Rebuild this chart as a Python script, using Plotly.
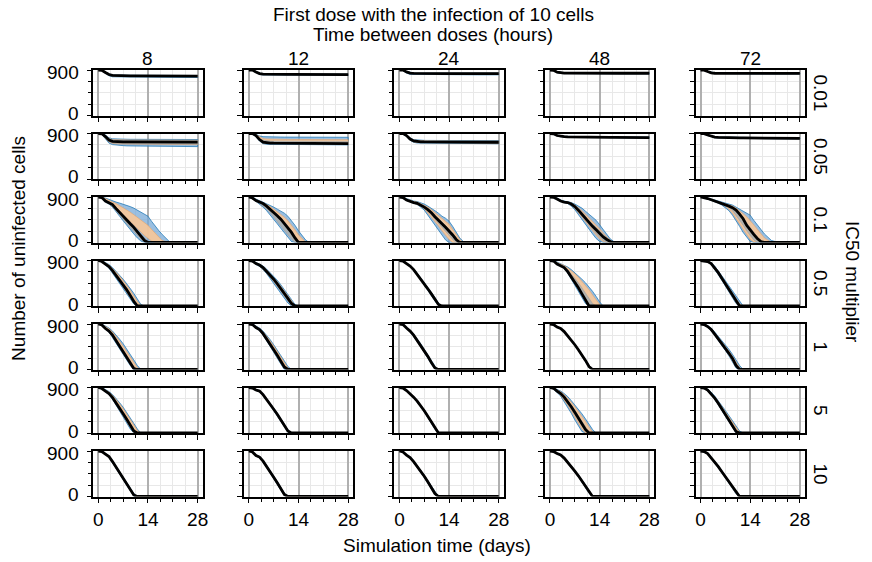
import plotly.graph_objects as go

DAYS = [0, 1, 2, 3, 4, 5, 6, 7, 8, 9, 10, 11, 12, 13, 14, 15, 16, 17, 18, 20, 22, 28]
HOURS = ["8", "12", "24", "48", "72"]
IC50 = ["0.01", "0.05", "0.1", "0.5", "1", "5", "10"]
X_TICKS = [0, 14, 28]
Y_TICKS = [0, 900]
X_MINOR = [3.5, 7, 10.5, 17.5, 21, 24.5]
Y_MINOR = [225, 450, 675]

MEDIAN = [
 [[900,895,850,810,792,787,785,784,783,782,782,781,781,780,780,780,780,780,780,779,779,778],
  [900,898,860,828,818,815,814,813,813,812,812,812,812,812,811,811,811,811,811,811,810,810],
  [900,898,862,840,834,832,831,831,830,830,830,830,830,830,830,830,830,830,830,830,830,830],
  [900,895,858,842,838,837,836,836,836,836,836,836,836,836,836,836,836,836,836,836,836,836],
  [900,898,870,845,836,834,833,833,832,832,832,832,832,832,832,832,832,832,832,832,832,832]],
 [[900,895,840,770,745,738,735,734,733,732,732,731,731,730,730,730,730,730,730,729,729,728],
  [900,898,860,780,730,715,710,708,707,706,705,705,704,704,703,703,703,702,702,702,701,700],
  [900,898,860,790,752,740,736,734,733,732,731,731,730,730,730,729,729,729,729,728,728,727],
  [900,895,860,845,838,835,833,832,831,830,829,828,828,827,827,826,826,825,825,824,823,820],
  [900,897,870,845,830,824,820,818,816,815,814,813,812,811,810,810,809,809,808,808,807,805]],
 [[900,890,820,790,750,670,590,510,440,370,300,220,140,40,0,0,0,0,0,0,0,0],
  [900,880,830,800,770,720,660,600,530,460,380,290,200,90,0,0,0,0,0,0,0,0],
  [900,890,840,810,790,775,740,700,650,590,510,430,370,300,230,150,60,0,0,0,0,0],
  [900,895,860,820,800,790,760,710,640,560,470,380,320,250,170,110,60,20,0,0,0,0],
  [900,890,870,845,820,800,780,760,720,690,640,560,470,340,240,160,80,20,0,0,0,0]],
 [[900,880,830,780,700,610,520,420,320,210,90,0,0,0,0,0,0,0,0,0,0,0],
  [900,890,840,810,760,690,610,530,440,350,250,150,50,0,0,0,0,0,0,0,0,0],
  [900,890,840,790,720,630,540,440,340,240,130,30,0,0,0,0,0,0,0,0,0,0],
  [900,890,830,800,760,680,580,470,360,240,110,0,0,0,0,0,0,0,0,0,0,0],
  [900,895,880,840,760,660,550,440,330,220,100,0,0,0,0,0,0,0,0,0,0,0]],
 [[900,880,810,760,680,580,460,350,240,130,20,0,0,0,0,0,0,0,0,0,0,0],
  [900,890,830,790,710,610,500,390,280,170,50,0,0,0,0,0,0,0,0,0,0,0],
  [900,890,820,760,680,580,480,370,260,140,30,0,0,0,0,0,0,0,0,0,0,0],
  [900,890,840,810,750,670,580,490,390,290,180,60,0,0,0,0,0,0,0,0,0,0],
  [900,890,850,790,700,610,520,420,320,220,80,0,0,0,0,0,0,0,0,0,0,0]],
 [[900,880,830,780,700,600,490,380,270,160,40,0,0,0,0,0,0,0,0,0,0,0],
  [900,890,850,830,760,670,570,470,370,260,150,40,0,0,0,0,0,0,0,0,0,0],
  [900,890,840,780,710,630,540,440,330,220,100,0,0,0,0,0,0,0,0,0,0,0],
  [900,885,830,780,710,620,520,410,300,190,70,0,0,0,0,0,0,0,0,0,0,0],
  [900,890,850,780,690,590,480,370,260,150,30,0,0,0,0,0,0,0,0,0,0,0]],
 [[900,890,840,790,690,580,470,360,250,140,30,0,0,0,0,0,0,0,0,0,0,0],
  [900,880,810,780,700,600,490,380,270,160,40,0,0,0,0,0,0,0,0,0,0,0],
  [900,880,820,770,690,600,500,400,290,180,60,0,0,0,0,0,0,0,0,0,0,0],
  [900,890,850,820,760,680,590,500,410,310,210,90,0,0,0,0,0,0,0,0,0,0],
  [900,890,850,770,680,590,490,390,290,190,80,0,0,0,0,0,0,0,0,0,0,0]],
]

BLUE_HI = [
 [[900,900,860,822,805,800,798,797,796,795,795,794,794,793,793,793,793,793,793,792,792,791],
  [900,900,868,838,828,825,824,823,823,822,822,822,822,822,821,821,821,821,821,821,820,820],
  [900,900,870,850,844,842,841,841,840,840,840,840,840,840,840,840,840,840,840,840,840,840],
  [900,900,866,850,846,845,844,844,844,844,844,844,844,844,844,844,844,844,844,844,844,844],
  [900,900,878,854,845,843,842,842,841,841,841,841,841,841,841,841,841,841,841,841,841,841]],
 [[900,900,870,815,795,790,788,787,786,785,785,784,784,783,783,783,783,783,783,782,782,781],
  [900,900,885,850,838,834,832,831,830,830,829,829,828,828,828,827,827,827,827,826,826,825],
  [900,900,875,815,780,770,766,764,763,762,761,761,760,760,760,759,759,759,759,758,758,757],
  [900,900,868,853,846,843,841,840,839,838,837,836,836,835,835,834,834,833,833,832,831,828],
  [900,900,878,854,840,834,830,828,826,825,824,823,822,821,820,820,819,819,818,818,817,815]],
 [[900,900,880,850,820,800,780,760,740,710,680,640,600,560,520,420,320,240,160,20,0,0],
  [900,900,860,830,800,770,740,700,660,620,580,520,440,340,230,130,50,0,0,0,0,0],
  [900,900,870,840,820,810,790,760,720,680,630,580,520,480,420,320,200,90,20,0,0,0],
  [900,900,880,840,820,810,790,760,720,680,620,560,500,440,350,250,150,70,20,0,0,0],
  [900,900,880,860,840,820,800,790,770,740,700,660,610,570,540,440,340,260,170,40,0,0]],
 [[900,900,860,820,760,690,610,530,440,350,250,140,30,0,0,0,0,0,0,0,0,0],
  [900,900,860,830,790,730,660,590,510,420,330,230,130,30,0,0,0,0,0,0,0,0],
  [900,895,850,800,740,650,560,470,370,270,170,60,0,0,0,0,0,0,0,0,0,0],
  [900,900,870,840,810,770,720,660,600,530,460,380,290,190,80,0,0,0,0,0,0,0],
  [900,900,885,855,790,700,600,500,400,300,190,80,0,0,0,0,0,0,0,0,0,0]],
 [[900,900,860,820,760,690,600,510,410,300,190,80,0,0,0,0,0,0,0,0,0,0],
  [900,900,860,820,760,680,590,490,390,280,170,60,0,0,0,0,0,0,0,0,0,0],
  [900,895,840,780,700,610,510,400,290,180,70,0,0,0,0,0,0,0,0,0,0,0],
  [900,893,848,818,760,682,592,502,402,302,195,75,0,0,0,0,0,0,0,0,0,0],
  [900,900,870,820,740,660,580,490,400,300,190,80,0,0,0,0,0,0,0,0,0,0]],
 [[900,900,860,820,760,690,600,510,410,300,190,80,0,0,0,0,0,0,0,0,0,0],
  [900,895,860,840,775,688,590,492,392,285,175,65,0,0,0,0,0,0,0,0,0,0],
  [900,893,848,790,722,645,556,458,350,240,125,15,0,0,0,0,0,0,0,0,0,0],
  [900,900,860,830,780,720,640,560,470,380,280,180,70,0,0,0,0,0,0,0,0,0],
  [900,900,870,810,730,640,545,445,345,245,140,40,0,0,0,0,0,0,0,0,0,0]],
 [[900,895,850,805,710,605,495,385,275,165,60,0,0,0,0,0,0,0,0,0,0,0],
  [900,888,822,795,720,623,515,405,295,187,70,0,0,0,0,0,0,0,0,0,0,0],
  [900,888,832,785,710,622,524,424,316,206,90,0,0,0,0,0,0,0,0,0,0,0],
  [900,894,860,832,776,698,610,520,430,332,234,118,10,0,0,0,0,0,0,0,0,0],
  [900,894,860,785,698,610,512,412,312,214,108,10,0,0,0,0,0,0,0,0,0,0]],
]

BLUE_LO = [
 [[900,885,830,785,765,760,758,757,756,755,755,754,754,753,753,753,753,753,753,752,752,751],
  [900,890,845,812,802,798,797,796,796,795,795,795,795,795,794,794,794,794,794,794,793,793],
  [900,890,840,815,808,806,805,805,804,804,804,804,804,804,804,804,804,804,804,804,804,804],
  [900,888,846,830,826,825,824,824,824,824,824,824,824,824,824,824,824,824,824,824,824,824],
  [900,892,858,832,823,821,820,820,819,819,819,819,819,819,819,819,819,819,819,819,819,819]],
 [[900,880,800,710,680,670,665,660,655,652,650,648,646,645,644,643,642,641,640,640,640,640],
  [900,890,835,750,700,688,684,682,681,680,679,679,678,678,677,677,677,676,676,676,675,674],
  [900,892,840,765,725,712,707,705,704,703,702,702,701,701,700,700,700,699,699,699,698,697],
  [900,888,850,834,827,824,822,821,820,819,818,817,817,816,816,815,815,814,814,813,812,809],
  [900,890,858,832,816,810,806,804,802,801,800,799,798,797,796,796,795,795,794,794,793,791]],
 [[900,880,800,760,700,610,520,430,340,250,170,90,30,0,0,0,0,0,0,0,0,0],
  [900,870,800,755,700,630,550,460,370,280,190,100,20,0,0,0,0,0,0,0,0,0],
  [900,880,830,800,780,750,700,640,560,460,360,260,150,50,0,0,0,0,0,0,0,0],
  [900,890,850,810,790,770,720,650,560,460,360,270,170,80,20,0,0,0,0,0,0,0],
  [900,885,860,840,810,780,740,690,630,540,440,320,200,100,20,0,0,0,0,0,0,0]],
 [[900,870,810,750,660,560,460,360,250,140,40,0,0,0,0,0,0,0,0,0,0,0],
  [900,880,820,780,720,640,550,460,360,260,160,60,0,0,0,0,0,0,0,0,0,0],
  [900,885,830,780,705,615,520,420,320,210,100,10,0,0,0,0,0,0,0,0,0,0],
  [900,880,820,790,740,650,540,420,300,170,50,0,0,0,0,0,0,0,0,0,0,0],
  [900,890,870,820,730,620,510,400,290,170,50,0,0,0,0,0,0,0,0,0,0,0]],
 [[900,870,800,740,650,540,420,300,190,80,0,0,0,0,0,0,0,0,0,0,0,0],
  [900,880,815,770,680,570,450,340,230,110,0,0,0,0,0,0,0,0,0,0,0,0],
  [900,885,805,745,660,560,455,345,230,110,10,0,0,0,0,0,0,0,0,0,0,0],
  [900,887,832,802,740,658,568,478,378,278,165,45,0,0,0,0,0,0,0,0,0,0],
  [900,880,835,770,670,575,480,380,270,160,30,0,0,0,0,0,0,0,0,0,0,0]],
 [[900,870,810,760,670,560,440,320,200,80,0,0,0,0,0,0,0,0,0,0,0,0],
  [900,885,840,815,742,650,550,450,348,238,125,15,0,0,0,0,0,0,0,0,0,0],
  [900,885,830,768,695,612,520,418,308,195,75,0,0,0,0,0,0,0,0,0,0,0],
  [900,870,800,730,630,510,390,260,140,30,0,0,0,0,0,0,0,0,0,0,0,0],
  [900,883,835,760,665,560,450,340,228,115,0,0,0,0,0,0,0,0,0,0,0,0]],
 [[900,885,830,775,670,555,445,335,225,115,5,0,0,0,0,0,0,0,0,0,0,0],
  [900,872,798,765,680,577,465,355,245,133,15,0,0,0,0,0,0,0,0,0,0,0],
  [900,872,808,755,670,578,476,376,264,154,35,0,0,0,0,0,0,0,0,0,0,0],
  [900,886,840,808,744,662,570,480,390,288,186,62,0,0,0,0,0,0,0,0,0,0],
  [900,886,840,755,662,570,468,368,268,166,52,0,0,0,0,0,0,0,0,0,0,0]],
]

ORANGE_HI = [
 [[900,898,856,816,798,793,791,790,789,788,788,787,787,786,786,786,786,786,786,785,785,784],
  [900,899,865,834,824,821,820,819,819,818,818,818,818,818,817,817,817,817,817,817,816,816],
  [900,899,866,845,839,837,836,836,835,835,835,835,835,835,835,835,835,835,835,835,835,835],
  [900,898,862,846,842,841,840,840,840,840,840,840,840,840,840,840,840,840,840,840,840,840],
  [900,899,874,850,841,839,838,838,837,837,837,837,837,837,837,837,837,837,837,837,837,837]],
 [[900,898,860,800,780,775,772,771,770,769,769,768,768,767,767,767,767,767,767,766,766,765],
  [900,900,878,830,800,792,788,786,785,784,783,783,782,782,781,781,781,780,780,780,779,778],
  [900,899,870,808,772,761,757,755,754,753,752,752,751,751,751,750,750,750,750,749,749,748],
  [900,898,865,850,843,840,838,837,836,835,834,833,833,832,832,831,831,830,830,829,828,825],
  [900,899,874,850,835,829,825,823,821,820,819,818,817,816,815,815,814,814,813,813,812,810]],
 [[900,900,870,830,800,770,730,690,650,600,550,500,450,400,340,260,180,100,40,0,0,0],
  [900,895,850,820,790,750,710,660,610,560,500,430,350,250,150,70,10,0,0,0,0,0],
  [900,895,860,830,810,800,770,740,700,650,590,530,470,420,360,260,160,60,0,0,0,0],
  [900,900,870,830,810,800,780,740,690,630,560,490,430,360,270,190,110,40,0,0,0,0],
  [900,895,875,855,830,810,790,775,750,720,680,630,570,510,440,350,260,170,90,0,0,0]],
 [[900,895,850,810,740,670,590,500,410,310,200,90,10,0,0,0,0,0,0,0,0,0],
  [900,895,850,820,775,710,640,560,480,390,290,190,90,10,0,0,0,0,0,0,0,0],
  [900,893,845,795,730,640,550,455,355,255,150,45,0,0,0,0,0,0,0,0,0,0],
  [900,895,860,830,800,750,700,640,570,490,410,320,220,120,30,0,0,0,0,0,0,0],
  [900,897,882,848,775,680,575,470,365,260,150,40,0,0,0,0,0,0,0,0,0,0]],
 [[900,895,850,805,740,660,560,460,360,250,140,40,0,0,0,0,0,0,0,0,0,0],
  [900,895,850,810,745,660,565,465,360,250,140,30,0,0,0,0,0,0,0,0,0,0],
  [900,893,832,772,692,598,498,388,278,165,55,0,0,0,0,0,0,0,0,0,0,0],
  [900,892,845,815,756,677,587,497,397,297,188,68,0,0,0,0,0,0,0,0,0,0],
  [900,897,862,808,725,640,555,460,365,260,140,40,0,0,0,0,0,0,0,0,0,0]],
 [[900,895,850,810,745,665,575,480,380,275,160,50,0,0,0,0,0,0,0,0,0,0],
  [900,893,856,836,770,682,583,485,385,277,167,57,0,0,0,0,0,0,0,0,0,0],
  [900,892,845,786,718,640,550,452,343,233,115,8,0,0,0,0,0,0,0,0,0,0],
  [900,895,850,815,760,690,610,520,430,330,230,120,20,0,0,0,0,0,0,0,0,0],
  [900,896,862,798,714,620,520,418,315,212,105,15,0,0,0,0,0,0,0,0,0,0]],
 [[900,893,846,798,700,592,482,372,262,152,45,0,0,0,0,0,0,0,0,0,0,0],
  [900,885,818,790,713,615,506,396,286,177,60,0,0,0,0,0,0,0,0,0,0,0],
  [900,885,828,780,703,615,516,416,307,197,80,0,0,0,0,0,0,0,0,0,0,0],
  [900,893,857,829,772,694,605,515,425,326,227,110,5,0,0,0,0,0,0,0,0,0],
  [900,893,857,781,693,604,505,405,305,206,99,5,0,0,0,0,0,0,0,0,0,0]],
]

ORANGE_LO = [
 [[900,890,842,800,782,777,775,774,773,772,772,771,771,770,770,770,770,770,770,769,769,768],
  [900,894,852,820,810,806,805,804,804,803,803,803,803,803,802,802,802,802,802,802,801,801],
  [900,894,852,830,823,821,820,820,819,819,819,819,819,819,819,819,819,819,819,819,819,819],
  [900,891,852,836,832,831,830,830,830,830,830,830,830,830,830,830,830,830,830,830,830,830],
  [900,895,864,839,830,828,827,827,826,826,826,826,826,826,826,826,826,826,826,826,826,826]],
 [[900,885,815,735,705,697,693,690,688,686,685,684,683,682,681,680,680,680,680,680,680,680],
  [900,893,845,765,715,702,697,695,694,693,692,692,691,691,690,690,690,689,689,689,688,687],
  [900,894,848,775,735,722,717,715,714,713,712,712,711,711,711,710,710,710,710,709,709,708],
  [900,891,854,839,832,829,827,826,825,824,823,822,822,821,821,820,820,819,819,818,817,814],
  [900,893,864,838,822,816,812,810,808,807,806,805,804,803,802,802,801,801,800,800,799,797]],
 [[900,890,830,800,770,700,630,560,490,420,350,280,210,140,80,30,0,0,0,0,0,0],
  [900,880,825,795,760,705,640,575,500,425,340,250,160,60,0,0,0,0,0,0,0,0],
  [900,885,835,805,785,760,720,670,600,510,420,330,230,140,60,0,0,0,0,0,0,0],
  [900,890,855,815,795,780,740,680,600,510,420,330,240,150,70,20,0,0,0,0,0,0],
  [900,885,865,840,815,790,760,720,660,580,480,370,260,150,60,10,0,0,0,0,0,0]],
 [[900,875,820,765,680,590,490,390,290,180,70,0,0,0,0,0,0,0,0,0,0,0],
  [900,885,830,790,735,660,575,490,400,300,200,100,20,0,0,0,0,0,0,0,0,0],
  [900,887,835,785,712,622,530,430,330,225,115,20,0,0,0,0,0,0,0,0,0,0],
  [900,885,825,795,750,670,570,460,350,230,110,10,0,0,0,0,0,0,0,0,0,0],
  [900,892,874,828,742,640,528,418,308,190,70,0,0,0,0,0,0,0,0,0,0,0]],
 [[900,875,805,750,665,560,440,325,215,105,10,0,0,0,0,0,0,0,0,0,0,0],
  [900,883,820,778,692,590,475,365,255,140,20,0,0,0,0,0,0,0,0,0,0,0],
  [900,887,812,752,668,570,467,357,245,125,20,0,0,0,0,0,0,0,0,0,0,0],
  [900,888,835,805,744,663,573,483,383,283,172,52,0,0,0,0,0,0,0,0,0,0],
  [900,884,842,778,684,590,498,398,292,185,55,0,0,0,0,0,0,0,0,0,0,0]],
 [[900,875,820,770,685,580,465,350,235,120,10,0,0,0,0,0,0,0,0,0,0,0],
  [900,887,844,820,748,656,557,456,355,245,133,23,0,0,0,0,0,0,0,0,0,0],
  [900,887,834,772,700,618,527,425,315,203,85,0,0,0,0,0,0,0,0,0,0,0],
  [900,875,810,750,660,550,430,310,190,80,0,0,0,0,0,0,0,0,0,0,0,0],
  [900,885,840,768,675,572,462,352,240,128,10,0,0,0,0,0,0,0,0,0,0,0]],
 [[900,887,834,782,680,568,458,348,238,128,15,0,0,0,0,0,0,0,0,0,0,0],
  [900,875,802,770,687,585,474,364,254,143,22,0,0,0,0,0,0,0,0,0,0,0],
  [900,875,812,760,677,585,484,384,273,163,42,0,0,0,0,0,0,0,0,0,0,0],
  [900,887,843,811,748,666,575,485,395,294,193,70,0,0,0,0,0,0,0,0,0,0],
  [900,887,843,759,667,576,475,375,275,174,61,0,0,0,0,0,0,0,0,0,0,0]],
]

GREY_HI = [
 [[900,897,854,814,796,791,789,788,787,786,786,785,785,784,784,784,784,784,784,783,783,782],
  [900,899,864,832,822,819,818,817,817,816,816,816,816,816,815,815,815,815,815,815,814,814],
  [900,899,865,844,838,836,835,835,834,834,834,834,834,834,834,834,834,834,834,834,834,834],
  [900,898,862,846,842,841,840,840,840,840,840,840,840,840,840,840,840,840,840,840,840,840],
  [900,899,874,850,841,839,838,838,837,837,837,837,837,837,837,837,837,837,837,837,837,837]],
 [[900,898,862,805,785,780,778,777,776,775,775,774,774,773,773,773,773,773,773,772,772,771],
  [900,899,870,810,770,758,753,751,750,749,748,748,747,747,746,746,746,745,745,745,744,743],
  [900,899,866,800,764,752,748,746,745,744,743,743,742,742,742,741,741,741,741,740,740,739],
  [900,898,865,850,843,840,838,837,836,835,834,833,833,832,832,831,831,830,830,829,828,825],
  [900,899,874,850,835,829,825,823,821,820,819,818,817,816,815,815,814,814,813,813,812,810]],
 [[900,895,835,800,765,690,615,540,470,400,330,260,185,95,25,0,0,0,0,0,0,0],
  [900,890,840,810,780,730,670,610,550,480,400,320,230,120,30,0,0,0,0,0,0,0],
  [900,890,850,820,800,790,760,720,680,620,550,480,410,350,280,190,90,10,0,0,0,0],
  [900,895,865,825,805,795,770,730,670,600,520,430,370,300,220,150,80,30,0,0,0,0],
  [900,890,870,850,825,805,785,765,735,700,660,590,500,390,290,200,110,40,0,0,0,0]],
 [[900,890,840,795,720,640,550,460,360,260,140,30,0,0,0,0,0,0,0,0,0,0],
  [900,890,845,815,770,700,625,545,460,370,270,170,70,0,0,0,0,0,0,0,0,0],
  [900,892,843,793,726,636,546,448,348,248,140,38,0,0,0,0,0,0,0,0,0,0],
  [900,893,845,815,780,720,640,550,460,360,250,140,50,0,0,0,0,0,0,0,0,0],
  [900,896,880,845,768,670,562,455,348,240,125,20,0,0,0,0,0,0,0,0,0,0]],
 [[900,890,830,780,705,610,500,390,280,170,60,0,0,0,0,0,0,0,0,0,0,0],
  [900,892,838,800,725,630,525,415,305,195,80,0,0,0,0,0,0,0,0,0,0,0],
  [900,892,828,768,688,592,492,382,272,155,45,0,0,0,0,0,0,0,0,0,0,0],
  [900,891,843,813,754,675,585,495,395,295,185,65,0,0,0,0,0,0,0,0,0,0],
  [900,893,855,798,712,625,537,440,342,240,110,10,0,0,0,0,0,0,0,0,0,0]],
 [[900,888,840,795,720,630,525,420,310,200,80,0,0,0,0,0,0,0,0,0,0,0],
  [900,892,854,834,766,678,578,478,378,268,158,48,0,0,0,0,0,0,0,0,0,0],
  [900,892,846,787,719,641,552,453,344,235,117,10,0,0,0,0,0,0,0,0,0,0],
  [900,890,840,795,730,645,550,450,345,240,130,20,0,0,0,0,0,0,0,0,0,0],
  [900,893,858,792,705,608,503,395,288,180,65,0,0,0,0,0,0,0,0,0,0,0]],
 [[900,894,848,801,705,598,488,378,268,158,52,0,0,0,0,0,0,0,0,0,0,0],
  [900,886,820,792,716,618,510,400,290,180,63,0,0,0,0,0,0,0,0,0,0,0],
  [900,886,830,782,706,618,520,420,311,201,85,0,0,0,0,0,0,0,0,0,0,0],
  [900,893,856,828,770,692,603,513,423,324,224,106,3,0,0,0,0,0,0,0,0,0],
  [900,893,856,780,691,602,503,403,303,204,97,3,0,0,0,0,0,0,0,0,0,0]],
]

GREY_LO = [
 [[900,892,845,804,786,781,779,778,777,776,776,775,775,774,774,774,774,774,774,773,773,772],
  [900,895,855,823,813,809,808,807,807,806,806,806,806,806,805,805,805,805,805,805,804,804],
  [900,895,855,833,826,824,823,823,822,822,822,822,822,822,822,822,822,822,822,822,822,822],
  [900,891,852,836,832,831,830,830,830,830,830,830,830,830,830,830,830,830,830,830,830,830],
  [900,895,864,839,830,828,827,827,826,826,826,826,826,826,826,826,826,826,826,826,826,826]],
 [[900,886,820,740,712,704,700,698,696,694,693,692,691,690,690,689,689,689,689,688,688,688],
  [900,894,850,770,720,706,701,699,698,697,696,696,695,695,694,694,694,693,693,693,692,691],
  [900,895,852,780,741,729,724,722,721,720,719,719,718,718,718,717,717,717,717,716,716,715],
  [900,891,854,839,832,829,827,826,825,824,823,822,822,821,821,820,820,819,819,818,817,814],
  [900,893,864,838,822,816,812,810,808,807,806,805,804,803,802,802,801,801,800,800,799,797]],
 [[900,880,800,765,710,620,535,450,370,290,210,130,60,10,0,0,0,0,0,0,0,0],
  [900,872,810,770,725,660,585,505,420,335,245,155,65,0,0,0,0,0,0,0,0,0],
  [900,885,835,805,785,765,725,680,620,550,460,380,300,220,140,60,0,0,0,0,0,0],
  [900,890,855,815,795,780,745,690,610,520,430,340,260,180,100,40,0,0,0,0,0,0],
  [900,885,865,840,815,795,770,740,690,630,540,440,340,230,130,50,0,0,0,0,0,0]],
 [[900,875,820,770,690,600,500,400,300,190,70,0,0,0,0,0,0,0,0,0,0,0],
  [900,880,825,790,735,660,575,490,400,300,200,100,20,0,0,0,0,0,0,0,0,0],
  [900,888,837,787,714,624,534,434,332,232,120,22,0,0,0,0,0,0,0,0,0,0],
  [900,885,825,795,750,670,570,460,350,230,100,0,0,0,0,0,0,0,0,0,0,0],
  [900,892,875,832,750,650,540,428,318,200,80,0,0,0,0,0,0,0,0,0,0,0]],
 [[900,875,805,750,665,560,440,325,215,105,10,0,0,0,0,0,0,0,0,0,0,0],
  [900,882,818,775,690,585,470,360,250,130,10,0,0,0,0,0,0,0,0,0,0,0],
  [900,888,815,755,672,572,470,360,250,128,22,0,0,0,0,0,0,0,0,0,0,0],
  [900,889,837,807,746,665,575,485,385,285,175,55,0,0,0,0,0,0,0,0,0,0],
  [900,884,842,778,684,590,498,398,292,185,55,0,0,0,0,0,0,0,0,0,0,0]],
 [[900,875,820,770,685,580,465,350,235,120,10,0,0,0,0,0,0,0,0,0,0,0],
  [900,888,846,824,752,660,560,460,360,250,138,28,0,0,0,0,0,0,0,0,0,0],
  [900,886,833,771,698,617,526,424,314,202,83,0,0,0,0,0,0,0,0,0,0,0],
  [900,878,815,760,680,580,470,360,245,130,20,0,0,0,0,0,0,0,0,0,0,0],
  [900,885,840,768,675,572,462,352,240,128,10,0,0,0,0,0,0,0,0,0,0,0]],
 [[900,886,832,779,675,562,452,342,232,122,10,0,0,0,0,0,0,0,0,0,0,0],
  [900,874,800,768,684,582,470,360,250,140,18,0,0,0,0,0,0,0,0,0,0,0],
  [900,874,810,758,674,582,480,380,269,159,38,0,0,0,0,0,0,0,0,0,0,0],
  [900,887,844,812,750,668,577,487,397,296,196,74,0,0,0,0,0,0,0,0,0,0],
  [900,887,844,760,669,578,477,377,277,176,63,0,0,0,0,0,0,0,0,0,0,0]],
]

# ---- sanity check on lengths ----
bad = []
for nm, arr in [("MEDIAN", MEDIAN), ("BLUE_HI", BLUE_HI), ("BLUE_LO", BLUE_LO),
                ("ORANGE_HI", ORANGE_HI), ("ORANGE_LO", ORANGE_LO),
                ("GREY_HI", GREY_HI), ("GREY_LO", GREY_LO)]:
    for r in range(7):
        for c in range(5):
            if len(arr[r][c]) != len(DAYS):
                bad.append((nm, r, c, len(arr[r][c])))
if bad:
    raise SystemExit("length mismatch: " + str(bad))

W, H = 872, 562
FONT = "Liberation Sans, Arial, sans-serif"
FS = 19
PANEL_W, PANEL_H = 110, 45.5
COL_X0 = 94
COL_STEP = 151.6
ROW_Y0 = 70
ROW_STEP = 63.5

BANDS = [
    (BLUE_LO, BLUE_HI, "rgba(120,170,215,0.75)", "rgba(31,119,180,0.75)"),
    (ORANGE_LO, ORANGE_HI, "rgba(248,198,152,0.90)", "rgba(240,160,90,0.5)"),
    (GREY_LO, GREY_HI, "rgba(172,176,176,0.90)", "rgba(150,150,150,0.4)"),
]

fig = go.Figure()
layout = {}
ann = []

def add_text(text, px, py, angle=0, xanchor="center"):
    ann.append(dict(text=text, x=px / W, y=1 - py / H, xref="paper", yref="paper",
                    xanchor=xanchor, yanchor="middle", showarrow=False,
                    textangle=angle, font=dict(family=FONT, size=FS, color="black")))

for r in range(7):
    for c in range(5):
        k = r * 5 + c + 1
        xa = "x" if k == 1 else f"x{k}"
        ya = "y" if k == 1 else f"y{k}"
        for lo_arr, hi_arr, fillc, edgec in BANDS:
            lo = lo_arr[r][c]
            hi = hi_arr[r][c]
            fig.add_trace(go.Scatter(
                x=DAYS + DAYS[::-1], y=hi + lo[::-1], mode="lines",
                fill="toself", fillcolor=fillc,
                line=dict(color=edgec, width=1),
                hoverinfo="skip", showlegend=False, xaxis=xa, yaxis=ya))
        fig.add_trace(go.Scatter(
            x=DAYS, y=MEDIAN[r][c], mode="lines",
            line=dict(color="black", width=2.8),
            hoverinfo="skip", showlegend=False, xaxis=xa, yaxis=ya))

        x0 = COL_X0 + COL_STEP * c
        y0 = ROW_Y0 + ROW_STEP * r
        xkey = "xaxis" if k == 1 else f"xaxis{k}"
        ykey = "yaxis" if k == 1 else f"yaxis{k}"
        layout[xkey] = dict(
            domain=[x0 / W, (x0 + PANEL_W) / W], anchor=ya,
            range=[-1.4, 29.4], tickmode="array", tickvals=X_TICKS,
            ticktext=[str(v) for v in X_TICKS], showticklabels=(r == 6),
            ticks="outside", ticklen=5, tickwidth=1.3, tickcolor="black",
            showline=True, linecolor="black", linewidth=1.6, mirror=True,
            showgrid=True, gridcolor="#b0b0b0", gridwidth=1.6, zeroline=False,
            minor=dict(tickmode="array", tickvals=X_MINOR, ticks="outside",
                       ticklen=3.5, tickwidth=1.1, tickcolor="black",
                       showgrid=True, gridcolor="#e8e8e8", gridwidth=0.9),
            tickfont=dict(family=FONT, size=FS, color="black"),
        )
        layout[ykey] = dict(
            domain=[1 - (y0 + PANEL_H) / H, 1 - y0 / H], anchor=xa,
            range=[0, 900], tickmode="array", tickvals=Y_TICKS,
            showticklabels=False,
            ticks="outside", ticklen=5, tickwidth=1.3, tickcolor="black",
            showline=True, linecolor="black", linewidth=1.6, mirror=True,
            showgrid=False, zeroline=False,
            minor=dict(tickmode="array", tickvals=Y_MINOR, ticks="outside",
                       ticklen=3.5, tickwidth=1.1, tickcolor="black",
                       showgrid=True, gridcolor="#e8e8e8", gridwidth=0.9),
        )
        if c == 0:
            # y tick labels placed next to their ticks (nudged apart slightly)
            add_text(str(Y_TICKS[1]), x0 - 12, y0 + 2, xanchor="right")
            add_text(str(Y_TICKS[0]), x0 - 12, y0 + PANEL_H - 2, xanchor="right")

add_text("First dose with the infection of 10 cells", 436, 14)
add_text("Time between doses (hours)", 436, 34)
for c, h in enumerate(HOURS):
    add_text(h, COL_X0 + COL_STEP * c + PANEL_W / 2, 58)
for r, m in enumerate(IC50):
    add_text(m, 826, ROW_Y0 + ROW_STEP * r + PANEL_H / 2, 90)
add_text("IC50 multiplier", 859, 282, 90)
add_text("Number of uninfected cells", 18, 248, -90)
add_text("Simulation time (days)", 440, 545)

fig.update_layout(
    width=W, height=H, margin=dict(l=0, r=0, t=0, b=0),
    paper_bgcolor="white", plot_bgcolor="white",
    showlegend=False, annotations=ann,
    font=dict(family=FONT, size=FS, color="black"),
    **layout,
)

fig.write_html("out.html")
